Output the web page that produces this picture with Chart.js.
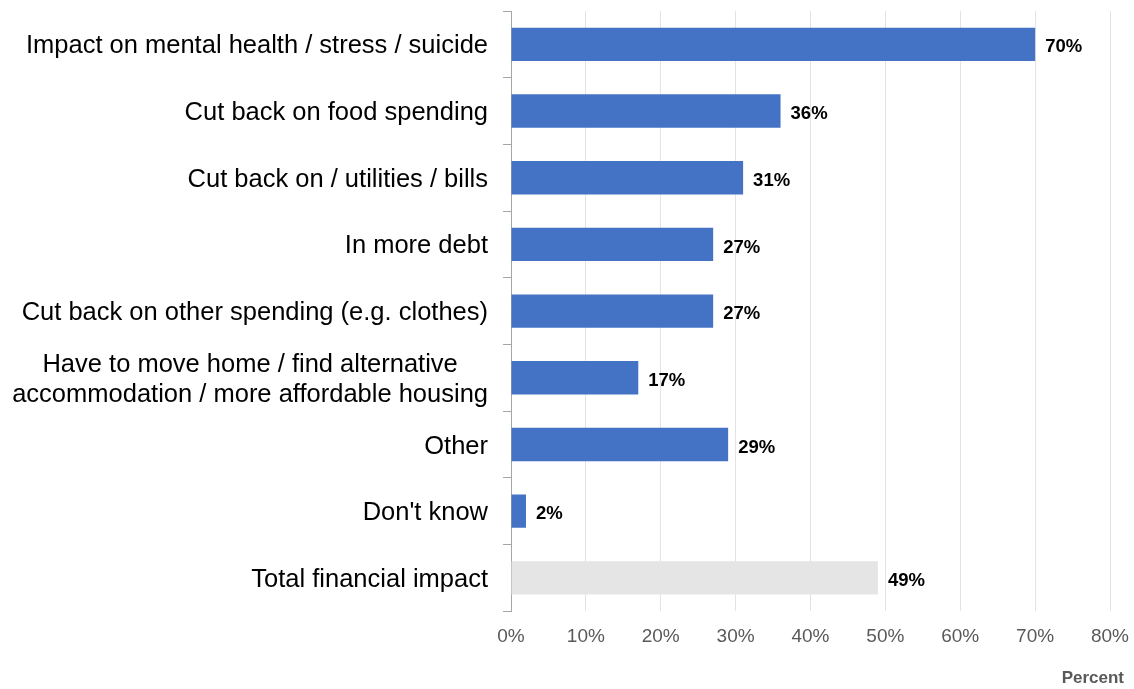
<!DOCTYPE html>
<html>
<head>
<meta charset="utf-8">
<script src="https://cdn.jsdelivr.net/npm/chart.js@4/dist/chart.umd.min.js"></script>
<style>
  html, body { margin: 0; padding: 0; background: #ffffff; }
  #wrap { width: 1134px; height: 689px; }
</style>
</head>
<body>
<div id="wrap"><canvas id="chart" width="1134" height="689"></canvas></div>
<script>
// Reported impacts, share of respondents (%)
const categories = [
  "Impact on mental health / stress / suicide",
  "Cut back on food spending",
  "Cut back on / utilities / bills",
  "In more debt",
  "Cut back on other spending (e.g. clothes)",
  ["Have to move home / find alternative", "accommodation / more affordable housing"],
  "Other",
  "Don't know",
  "Total financial impact"
];
const percentValues = [70, 36, 31, 27, 27, 17, 29, 2, 49];
const xTicks = [0, 10, 20, 30, 40, 50, 60, 70, 80];
const axisTitle = "Percent";

const BLUE = "#4472c4";
const GREY = "#e5e5e5";
const FONT = "'Liberation Sans', Arial, sans-serif";
const barColors = categories.map((c, i) => i === categories.length - 1 ? GREY : BLUE);

// Category labels: right-aligned block, each line centred within the block
const categoryLabelPlugin = {
  id: "categoryLabels",
  afterDraw(chart) {
    const { ctx } = chart;
    const yScale = chart.scales.y;
    const rightEdge = chart.chartArea.left - 23;
    ctx.save();
    ctx.font = "25.5px " + FONT;
    ctx.fillStyle = "#000000";
    ctx.textBaseline = "middle";
    ctx.textAlign = "center";
    categories.forEach((label, i) => {
      const lines = Array.isArray(label) ? label : [label];
      const widths = lines.map(l => ctx.measureText(l).width);
      const blockW = Math.max(...widths);
      const cx = rightEdge - blockW / 2;
      const yc = yScale.getPixelForValue(i) + 2;
      const lh = 30;
      lines.forEach((l, k) => {
        const y = yc + (k - (lines.length - 1) / 2) * lh;
        ctx.fillText(l, cx, y);
      });
    });
    ctx.restore();
  }
};

// Value labels at the end of each bar, plus the axis caption
const valueLabelPlugin = {
  id: "valueLabels",
  afterDatasetsDraw(chart) {
    const { ctx } = chart;
    const meta = chart.getDatasetMeta(0);
    ctx.save();
    ctx.font = "bold 18.5px " + FONT;
    ctx.fillStyle = "#000000";
    ctx.textAlign = "left";
    ctx.textBaseline = "middle";
    meta.data.forEach((bar, i) => {
      ctx.fillText(percentValues[i] + "%", bar.x + 10, bar.y + 3);
    });
    ctx.font = "bold 17px " + FONT;
    ctx.fillStyle = "#595959";
    ctx.textAlign = "right";
    ctx.fillText(axisTitle, chart.width - 10, 678);
    ctx.restore();
  }
};

new Chart(document.getElementById("chart"), {
  type: "bar",
  data: {
    labels: categories,
    datasets: [{
      data: percentValues,
      backgroundColor: barColors,
      borderWidth: 0,
      barPercentage: 0.5,
      categoryPercentage: 1.0
    }]
  },
  options: {
    indexAxis: "y",
    responsive: false,
    animation: false,
    devicePixelRatio: 1,
    layout: { padding: { top: 11, right: 24, bottom: 27, left: 0 } },
    plugins: {
      legend: { display: false },
      tooltip: { enabled: false }
    },
    scales: {
      x: {
        min: 0,
        max: 80,
        afterBuildTicks(axis) {
          axis.ticks = xTicks.map(v => ({ value: v }));
        },
        afterFit(axis) { axis.paddingRight = 0; },
        ticks: {
          callback: v => v + "%",
          color: "#595959",
          font: { family: FONT, size: 19 },
          padding: 14,
          maxRotation: 0
        },
        grid: {
          color: "#e3e3e3",
          lineWidth: 1,
          drawTicks: false
        },
        border: { display: false }
      },
      y: {
        afterFit(axis) { axis.width = 511; },
        ticks: { color: "rgba(0,0,0,0)", font: { family: FONT, size: 10 } },
        grid: {
          offset: true,
          drawOnChartArea: false,
          drawTicks: true,
          tickLength: 8,
          color: "#a6a6a6"
        },
        border: { display: true, color: "#a6a6a6", width: 1 }
      }
    }
  },
  plugins: [categoryLabelPlugin, valueLabelPlugin]
});
</script>
</body>
</html>
